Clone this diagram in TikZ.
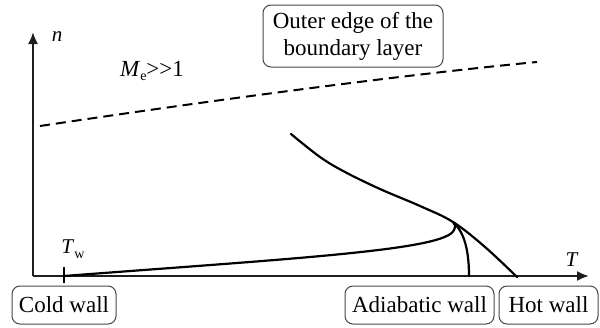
\documentclass[tikz,border=0pt]{standalone}
\usepackage{fontspec}
\setmainfont{Liberation Serif}
\usetikzlibrary{arrows.meta}
\definecolor{boxgray}{RGB}{70,70,70}
\definecolor{axisgray}{RGB}{30,30,30}
\tikzset{
  wallbox/.style={draw=boxgray, line width=1pt, rounded corners=8pt, minimum height=38pt, inner sep=0pt, font=\fontsize{23}{27}\selectfont},
  axisline/.style={draw=axisgray, line width=2pt, -{Latex[length=12pt,width=10pt]}},
  profile/.style={draw=black, line width=2.2pt, line cap=round},
  edgeline/.style={draw=black, line width=2pt, dash pattern=on 10pt off 6pt},
  lbl/.style={inner sep=0pt, font=\fontsize{21}{25}\selectfont}
}
\begin{document}
\begin{tikzpicture}[x=1pt,y=-1pt]
\useasboundingbox (0,0) rectangle (600,327);
% axes
\coordinate (O) at (33,276);
\coordinate (ytip) at (33,32);
\coordinate (xtip) at (589,276);
\draw[axisline] (O) -- (ytip);
\draw[axisline] (O) -- (xtip);
\node[lbl] (n) at (57,37) {\textit{n}};
\node[lbl] (T) at (572,260) {\textit{T}};
% Tw tick
\coordinate (tw) at (64,276);
\coordinate (twtop) at (64,267);
\coordinate (twbot) at (64,283);
\draw[draw=black, line width=1.3pt] (twtop) -- (twbot);
\node[lbl] (Tw) at (73,249) {\textit{T}\raisebox{-5pt}{\fontsize{14}{16}\selectfont w}};
% outer edge dashed
\coordinate (e1) at (40,126);
\coordinate (e2) at (537,62);
\draw[edgeline] (e1) .. controls (200,102) and (400,75) .. (e2);
\node[lbl, font=\fontsize{23}{27}\selectfont] (Me) at (152,71) {\textit{M}\raisebox{-4pt}{\fontsize{14}{16}\selectfont e}>{}>1};
\node[wallbox, minimum width=180pt, minimum height=62pt, align=center] (outer) at (353,36) {Outer edge of the\\boundary layer};
% profiles
\coordinate (top) at (291,134);
\coordinate (meet) at (453,222);
\coordinate (hot) at (517,277);
\coordinate (adia) at (469,276);
\coordinate (nose) at (454,230);
\draw[profile] plot[smooth, tension=0.6] coordinates {(291,134) (320,157) (345,172) (380,189) (420,206) (453,222) (485,247) (517,277)};
\draw[profile] (meet) .. controls (462,230) and (469,245) .. (adia);
\draw[profile] (tw) .. controls (300,258) and (446,250) .. (nose) .. controls (456,226) and (455,224) .. (meet);
% wall boxes
\node[wallbox, minimum width=104pt] (cold) at (64,305) {Cold wall};
\node[wallbox, minimum width=149pt] (adiabatic) at (419.5,305) {Adiabatic wall};
\node[wallbox, minimum width=99pt] (hotwall) at (548.5,305) {Hot wall};
\end{tikzpicture}
\end{document}
